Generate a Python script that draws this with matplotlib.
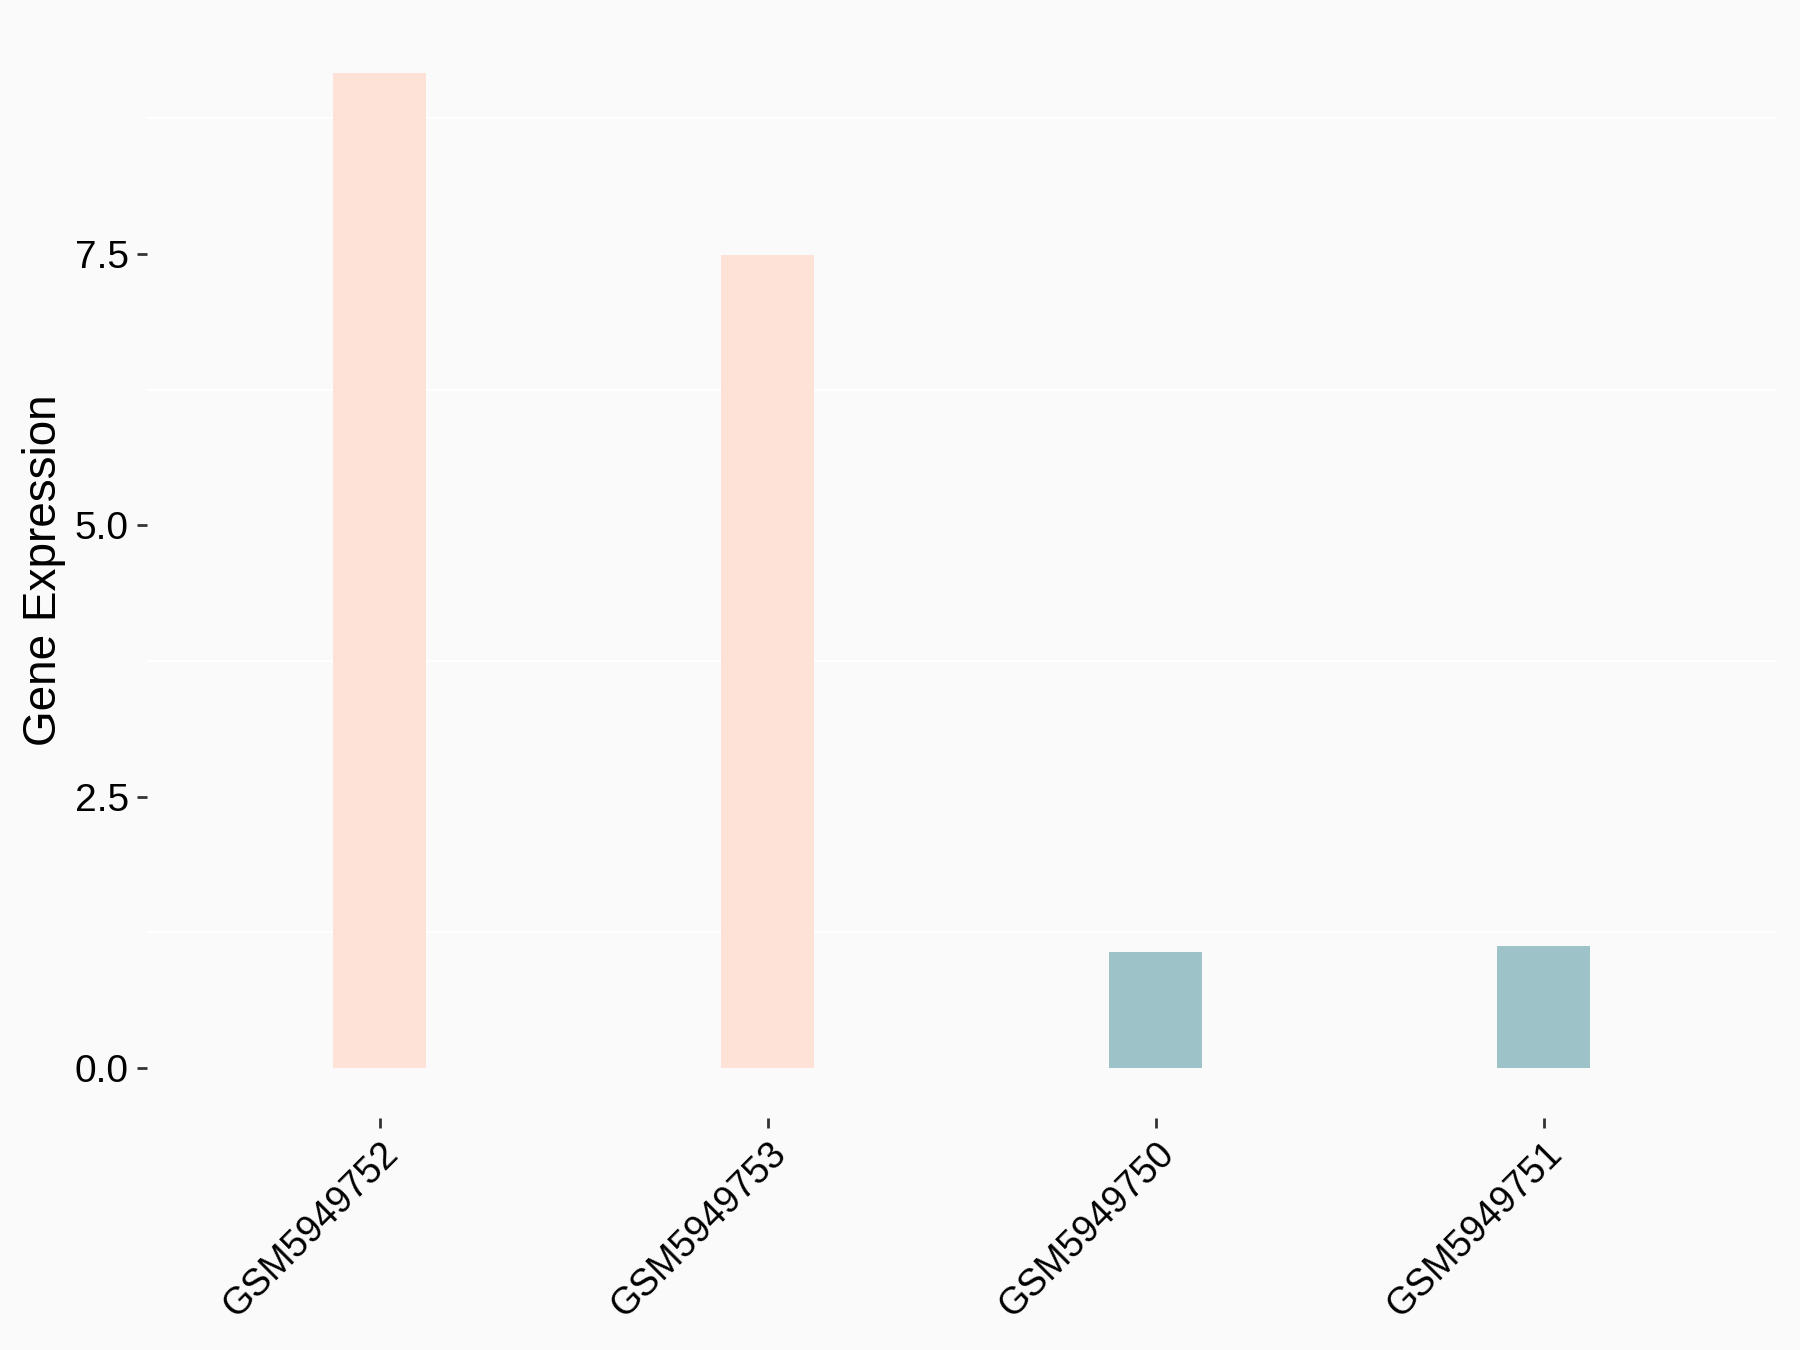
import matplotlib
matplotlib.use("Agg")
import matplotlib.pyplot as plt
import matplotlib.transforms as mtransforms
import numpy as np

# values
samples = ["GSM5949752", "GSM5949753", "GSM5949750", "GSM5949751"]
expression = [9.17, 7.49, 1.07, 1.12]
groups = ["high", "high", "low", "low"]
group_colors = {"high": "#FEE1D7", "low": "#9DC3C8"}
y_ticks = [0.0, 2.5, 5.0, 7.5]
y_minor = [1.25, 3.75, 6.25, 8.75]

plt.rcParams['font.family'] = ['Liberation Sans', 'DejaVu Sans']

fig = plt.figure(figsize=(9, 6.75), dpi=200, facecolor="#FAFAFA")
ax = fig.add_axes([0.0817, 0.172, 0.9053, 0.811])
ax.set_facecolor("#FAFAFA")

x = np.arange(1, len(samples) + 1)
ax.bar(x, expression, width=0.24, color=[group_colors[g] for g in groups],
       zorder=3)

for v in y_minor:
    ax.axhline(v, color="white", linewidth=0.8, zorder=1)

ax.set_xlim(0.4, 4.6)
top = max(expression)
ax.set_ylim(-0.05 * top, top * 1.05)

ax.set_yticks(y_ticks)
ax.set_yticklabels([f"{v:.1f}" for v in y_ticks])
ax.set_xticks(x)
ax.set_xticklabels(samples, rotation=45, ha="right", va="top",
                   rotation_mode="anchor")
offset = mtransforms.ScaledTranslation(10 / 72, 0, fig.dpi_scale_trans)
for lab in ax.get_xticklabels():
    lab.set_transform(lab.get_transform() + offset)

ax.tick_params(axis="both", length=3.6, width=1.0, color="#333333",
               labelsize=14, labelcolor="black", pad=3)
ax.tick_params(axis="x", labelsize=13.5, pad=3)

for s in ax.spines.values():
    s.set_visible(False)

ax.set_ylabel("Gene Expression", fontsize=16.5, labelpad=3)

fig.savefig("out.png", dpi=200, facecolor=fig.get_facecolor())
